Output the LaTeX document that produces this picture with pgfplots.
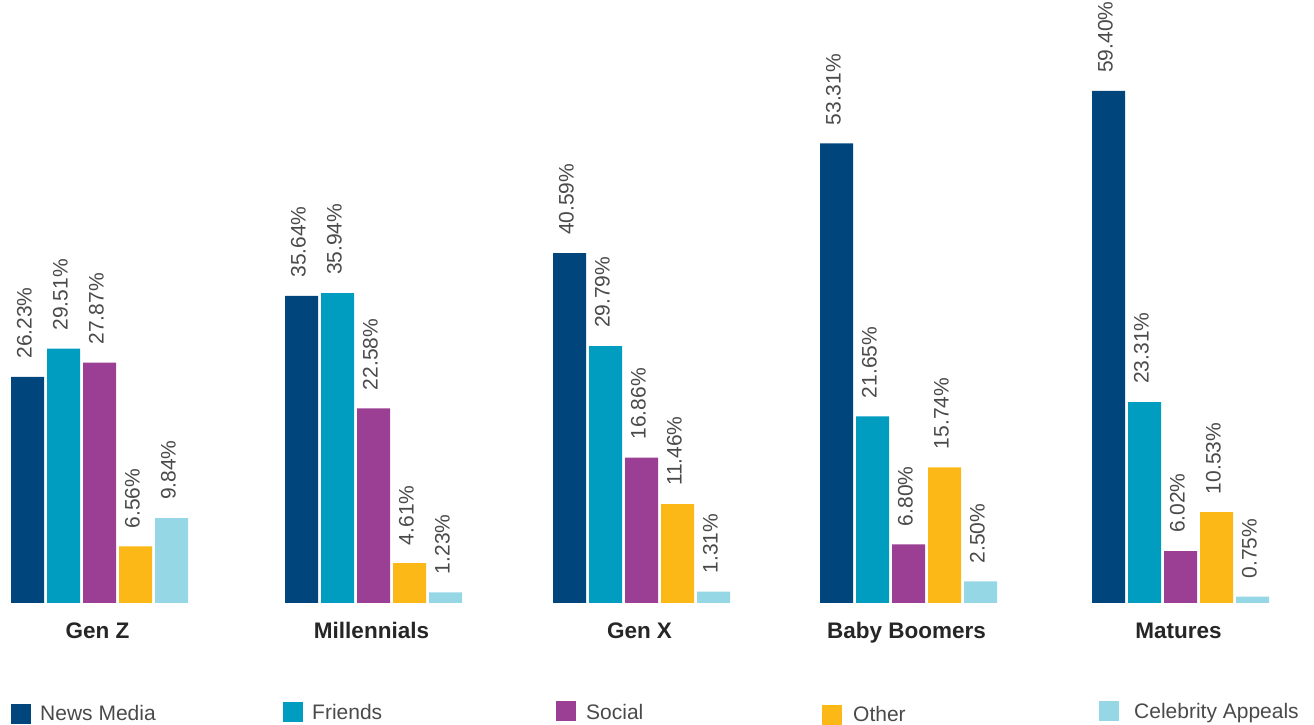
\documentclass[border=0pt]{standalone}
\usepackage{pgfplots}
\pgfplotsset{compat=1.18}
\usepackage{fontspec}
\setmainfont{Liberation Sans}
\definecolor{news}{HTML}{00457C}
\definecolor{friends}{HTML}{009DC0}
\definecolor{social}{HTML}{9B3F94}
\definecolor{other}{HTML}{FBB817}
\definecolor{celeb}{HTML}{96D7E6}
\definecolor{txt}{HTML}{4A4A4A}
\begin{document}
\begin{tikzpicture}
\begin{axis}[
  name=ax, scale only axis, width=1314pt, height=725pt,
  xmin=0, xmax=1314, ymin=-14.153, ymax=69.95,
  ybar=3pt, bar width=33pt,
  axis line style={draw=none}, major tick length=0pt, ytick=\empty,
  xtick={99.5,373.5,641.5,908.5,1180.5},
  xticklabels={Gen Z, Millennials, Gen X, Baby Boomers, Matures},
  xticklabel style={font=\fontsize{22.5}{27}\selectfont\bfseries, text=black!85, anchor=base, yshift=86pt, xshift=-2pt},
  /pgf/number format/assume math mode=true,
  nodes near coords={\pgfmathprintnumber[fixed,fixed zerofill,precision=2]{\pgfplotspointmeta}\%},
  every node near coord/.append style={font=\fontsize{21}{25}\selectfont, text=txt, rotate=90, anchor=west, inner sep=0pt, xshift=18pt, yshift=3pt},
  clip=false,
]
% groups at pixel centres
\addplot[fill=news, draw=none] coordinates {(99.5,26.23) (373.5,35.64) (641.5,40.59) (908.5,53.31) (1180.5,59.40)};
\addplot[fill=friends, draw=none] coordinates {(99.5,29.51) (373.5,35.94) (641.5,29.79) (908.5,21.65) (1180.5,23.31)};
\addplot[fill=social, draw=none] coordinates {(99.5,27.87) (373.5,22.58) (641.5,16.86) (908.5,6.80) (1180.5,6.02)};
\addplot[fill=other, draw=none] coordinates {(99.5,6.56) (373.5,4.61) (641.5,11.46) (908.5,15.74) (1180.5,10.53)};
\addplot[fill=celeb, draw=none] coordinates {(99.5,9.84) (373.5,1.23) (641.5,1.31) (908.5,2.50) (1180.5,0.75)};
\end{axis}
% legend, in pixel coordinates from the top left
\begin{scope}[shift={(ax.north west)}, x=1pt, y=-1pt, every node/.style={anchor=base west, inner sep=0pt, text=txt, font=\fontsize{21}{25}\selectfont}]
\fill[news] (11,704) rectangle (31,724);
\node at (40,721) {News Media};
\fill[friends] (283,702) rectangle (303,722);
\node at (312,720) {Friends};
\fill[social] (556,701) rectangle (576,721);
\node at (586,719.5) {Social};
\fill[other] (822,705) rectangle (842,725);
\node at (853,721.5) {Other};
\fill[celeb] (1099,701) rectangle (1119,721);
\node at (1134,719) {Celebrity Appeals};
\end{scope}
\pgfresetboundingbox
\useasboundingbox (ax.south west) rectangle (ax.north east);
\end{tikzpicture}
\end{document}
